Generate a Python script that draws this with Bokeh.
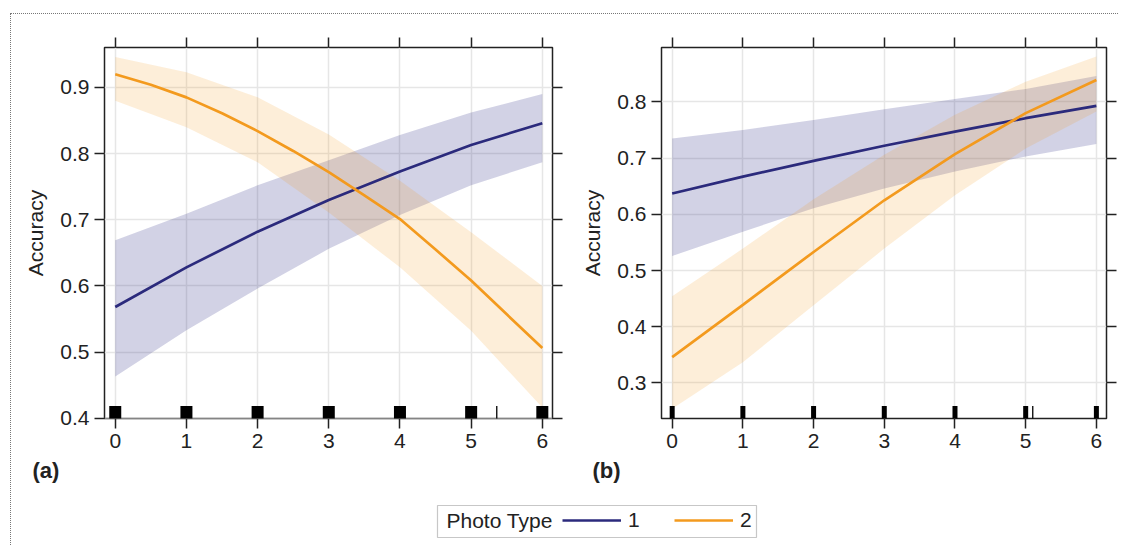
from bokeh.plotting import figure
from bokeh.models import (LinearAxis, Title, Legend, LegendItem, FixedTicker,
                          BoxAnnotation, Label)
from bokeh.layouts import column, row
from bokeh.embed import file_html
from bokeh.resources import INLINE

# ---------------- data ----------------
x_vals = [0, 1, 2, 3, 4, 5, 6]
x_half = [0, 0.5, 1, 1.5, 2, 2.5, 3, 3.5, 4, 4.5, 5, 5.5, 6]

# panel (a)
a_fit1 = [0.568, 0.628, 0.682, 0.730, 0.773, 0.813, 0.846]
a_lo1 = [0.463, 0.533, 0.596, 0.656, 0.707, 0.752, 0.787]
a_hi1 = [0.669, 0.709, 0.752, 0.790, 0.828, 0.862, 0.890]
a_fit2 = [0.920, 0.904, 0.885, 0.861, 0.834, 0.804, 0.772, 0.737,
          0.701, 0.655, 0.608, 0.557, 0.506]          # on x_half
a_lo2 = [0.880, 0.840, 0.787, 0.711, 0.628, 0.532, 0.416]
a_hi2 = [0.946, 0.923, 0.885, 0.829, 0.759, 0.681, 0.600]

# panel (b)
b_fit1 = [0.637, 0.667, 0.695, 0.722, 0.747, 0.771, 0.793]
b_lo1 = [0.526, 0.569, 0.611, 0.646, 0.676, 0.703, 0.725]
b_hi1 = [0.735, 0.750, 0.768, 0.787, 0.805, 0.823, 0.846]
b_fit2 = [0.346, 0.439, 0.533, 0.625, 0.707, 0.780, 0.839]
b_lo2 = [0.254, 0.337, 0.438, 0.539, 0.634, 0.717, 0.783]
b_hi2 = [0.454, 0.539, 0.627, 0.706, 0.777, 0.836, 0.881]

# rug positions
rug_a = [0, 1, 2, 3, 4, 5, 6]
thin_a = [5.36]
rug_b = [0, 1, 2, 3, 4, 5, 6]
thin_b = [5.10]

x_ticks = [0, 1, 2, 3, 4, 5, 6]
a_yticks = [0.4, 0.5, 0.6, 0.7, 0.8, 0.9]
b_yticks = [0.3, 0.4, 0.5, 0.6, 0.7, 0.8]

y_label = "Accuracy"
legend_title = "Photo Type"
series_names = ["1", "2"]
panel_tags = ["(a)", "(b)"]

# ---------------- style ----------------
FONT = "Liberation Sans"
NAVY = "#2b2a7c"
ORANGE = "#f39a1e"
INK = "#222222"
GRID = "#e6e6e6"
FS = "21px"


def style_axis(ax, ticks, show_labels):
    ax.ticker = FixedTicker(ticks=ticks)
    ax.axis_line_color = None
    ax.major_tick_out = 10
    ax.major_tick_in = 0
    ax.major_tick_line_color = INK
    ax.major_tick_line_width = 1.5
    ax.minor_tick_line_color = None
    ax.major_label_text_font = FONT
    ax.major_label_text_color = INK
    if show_labels:
        ax.major_label_text_font_size = FS
        ax.major_label_standoff = 5
    else:
        ax.major_label_overrides = {t: "" for t in ticks}
        ax.major_label_text_font_size = "1px"
        ax.major_label_standoff = 0


def make_panel(x1, fit1, lo1, hi1, x2, fit2, lo2, hi2, yr, yticks, rugs,
               rug_w, thin, tag, width, mbl, mbr, tag_offset):
    p = figure(width=width, height=476, x_range=(-0.151, 6.143), y_range=yr,
               output_backend="svg", toolbar_location=None,
               min_border_left=mbl, min_border_right=mbr,
               min_border_top=33, min_border_bottom=72)
    p.outline_line_color = INK
    p.outline_line_width = 1.5
    p.background_fill_color = "white"
    p.border_fill_color = "white"

    style_axis(p.xaxis[0], x_ticks, True)
    style_axis(p.yaxis[0], yticks, True)
    p.yaxis[0].axis_label = y_label
    p.yaxis[0].axis_label_text_font = FONT
    p.yaxis[0].axis_label_text_font_size = FS
    p.yaxis[0].axis_label_text_font_style = "normal"
    p.yaxis[0].axis_label_text_color = INK
    p.yaxis[0].axis_label_standoff = 10

    top = LinearAxis()
    style_axis(top, x_ticks, False)
    p.add_layout(top, "above")
    right = LinearAxis()
    style_axis(right, yticks, False)
    p.add_layout(right, "right")

    p.xgrid.ticker = FixedTicker(ticks=x_ticks)
    p.ygrid.ticker = FixedTicker(ticks=yticks)
    p.grid.grid_line_color = GRID
    p.grid.grid_line_width = 1.5

    p.varea(x=x_vals, y1=lo1, y2=hi1, fill_color="#2c2c85", fill_alpha=0.21)
    p.varea(x=x_vals, y1=lo2, y2=hi2, fill_color=ORANGE, fill_alpha=0.17)
    p.line(x=x1, y=fit1, line_color=NAVY, line_width=2.7)
    p.line(x=x2, y=fit2, line_color=ORANGE, line_width=2.7)

    y0 = yr[0]
    p.rect(x=rugs, y=[y0] * len(rugs), width=rug_w, height=25,
           width_units="screen", height_units="screen",
           fill_color="black", line_color=None)
    p.rect(x=thin, y=[y0] * len(thin), width=1.3, height=25,
           width_units="screen", height_units="screen",
           fill_color="black", line_color=None)

    p.add_layout(Title(text=tag, align="left", text_font=FONT,
                       text_font_size="22px", text_font_style="bold",
                       text_color=INK, offset=tag_offset), "below")
    return p


p1 = make_panel(x_vals, a_fit1, a_lo1, a_hi1, x_half, a_fit2, a_lo2, a_hi2,
                (0.3995, 0.9604), a_yticks, rug_a, 12, thin_a, panel_tags[0],
                567, 93, 26, -72)
p2 = make_panel(x_vals, b_fit1, b_lo1, b_hi1, x_vals, b_fit2, b_lo2, b_hi2,
                (0.2367, 0.8968), b_yticks, rug_b, 5, thin_b, panel_tags[1],
                540, 80, 12, -69)

# ---------------- legend strip ----------------
lf = figure(width=1107, height=55, output_backend="svg", toolbar_location=None,
            x_range=(0, 1107), y_range=(0, 55), min_border=0,
            x_axis_location=None, y_axis_location=None)
lf.grid.visible = False
lf.outline_line_color = None
lf.border_fill_color = "white"
# hidden stand-in renderers (outside the visible range) for the legend glyphs
r1 = lf.line(x=[-50, -40], y=[-50, -50], line_color=NAVY, line_width=2.7)
r2 = lf.line(x=[-50, -40], y=[-50, -50], line_color=ORANGE, line_width=2.7)
lf.add_layout(BoxAnnotation(left=426, right=745, bottom=8, top=40,
                            fill_alpha=0, line_color="#444444",
                            line_width=1.2))
lf.add_layout(Label(x=435, y=25, text=legend_title, text_baseline="middle",
                    text_font=FONT, text_font_size=FS, text_color=INK))
legend = Legend(
    items=[LegendItem(label=series_names[0], renderers=[r1]),
           LegendItem(label=series_names[1], renderers=[r2])],
    orientation="horizontal", location=(551, 13), margin=0, padding=0,
    spacing=26, glyph_width=59, glyph_height=20, label_standoff=7,
    label_width=20, label_height=20,
    label_text_font=FONT, label_text_font_size=FS, label_text_color=INK,
    border_line_color=None, background_fill_alpha=0,
)
lf.add_layout(legend, "center")

layout = column(row(p1, p2), lf, margin=(13, 0, 0, 10),
                styles={"border-top": "1px dotted #777",
                        "border-left": "1px dotted #777"})

open("out.html", "w").write(file_html(layout, INLINE))
